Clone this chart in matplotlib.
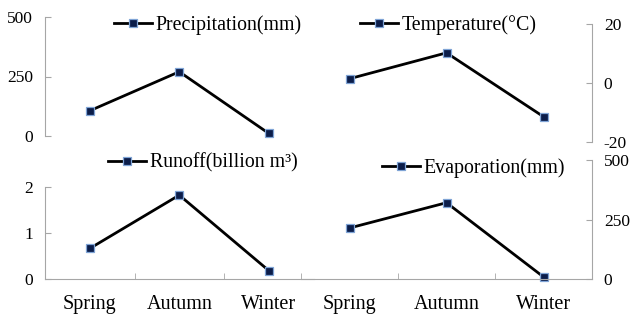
import matplotlib
matplotlib.use("Agg")
import matplotlib.pyplot as plt
from matplotlib.lines import Line2D

categories = ["Spring", "Autumn", "Winter"]
precipitation = [106, 270, 11]
temperature = [1.4, 10.2, -11.5]
runoff = [0.67, 1.83, 0.19]
evaporation = [215, 321, 10]

plt.rcParams['font.family'] = ['Liberation Serif', 'DejaVu Serif']

fig = plt.figure(figsize=(6.31, 3.14), dpi=100)
W, H = 631, 314

def ax_at(x0, x1, ytop, ybot):
    return fig.add_axes([x0 / W, 1 - ybot / H, (x1 - x0) / W, (ybot - ytop) / H])

spine_col = "#a6a6a6"
mk = dict(marker='s', markersize=6, markerfacecolor='#0b1d4a', markeredgecolor='#7fa4d6',
          markeredgewidth=0.9, color='black', linewidth=2)

panels = [
    (45, 313.5, 17, 136, precipitation, (0, 500), [0, 250, 500], 'left', None, "Precipitation(mm)", (114, 25)),
    (301, 592, 24, 141.7, temperature, (-20, 20), [-20, 0, 20], 'right', None, "Temperature(°C)", (360, 25)),
    (45, 313.5, 187.3, 279.3, runoff, (0, 2), [0, 1, 2], 'left', [1, 2], "Runoff(billion m³)", (108, 163)),
    (301, 592, 160, 279.3, evaporation, (0, 500), [0, 250, 500], 'right', [0, 1, 2], "Evaporation(mm)", (382, 168)),
]

xs = [0.5, 1.5, 2.5]
for x0, x1, yt, yb, data, ylim, yticks, side, minor, label, (lx, ly) in panels:
    ax = ax_at(x0, x1, yt, yb)
    ax.set_facecolor('none')
    ax.plot(xs, data, clip_on=False, **mk)
    ax.set_xlim(0, 3)
    ax.set_ylim(*ylim)
    ax.set_yticks(yticks)
    ax.set_yticklabels([str(t) for t in yticks], fontsize=12.5)
    for s in ['top', 'left', 'right', 'bottom']:
        ax.spines[s].set_visible(False)
    ax.spines[side].set_visible(True)
    ax.spines[side].set_color(spine_col)
    if side == 'right':
        ax.yaxis.tick_right()
    ax.tick_params(axis='y', direction='in', length=4, color=spine_col, pad=8.5)
    if minor is not None:
        ax.spines['bottom'].set_visible(True)
        ax.spines['bottom'].set_color(spine_col)
        ax.set_xticks(xs)
        ax.set_xticklabels(categories, fontsize=14.5)
        ax.tick_params(axis='x', which='major', length=0, pad=11)
        ax.set_xticks(minor, minor=True)
        ax.tick_params(axis='x', which='minor', direction='in', length=4, color=spine_col)
    else:
        ax.set_xticks([])
    handle = Line2D([0], [0], **mk)
    fig.legend([handle], [label], loc='center left',
               bbox_to_anchor=(lx / W, 1 - ly / H), frameon=False,
               fontsize=14.3, handlelength=1.9, handletextpad=0.2,
               borderpad=0, borderaxespad=0)

fig.savefig("out.png", dpi=100)
